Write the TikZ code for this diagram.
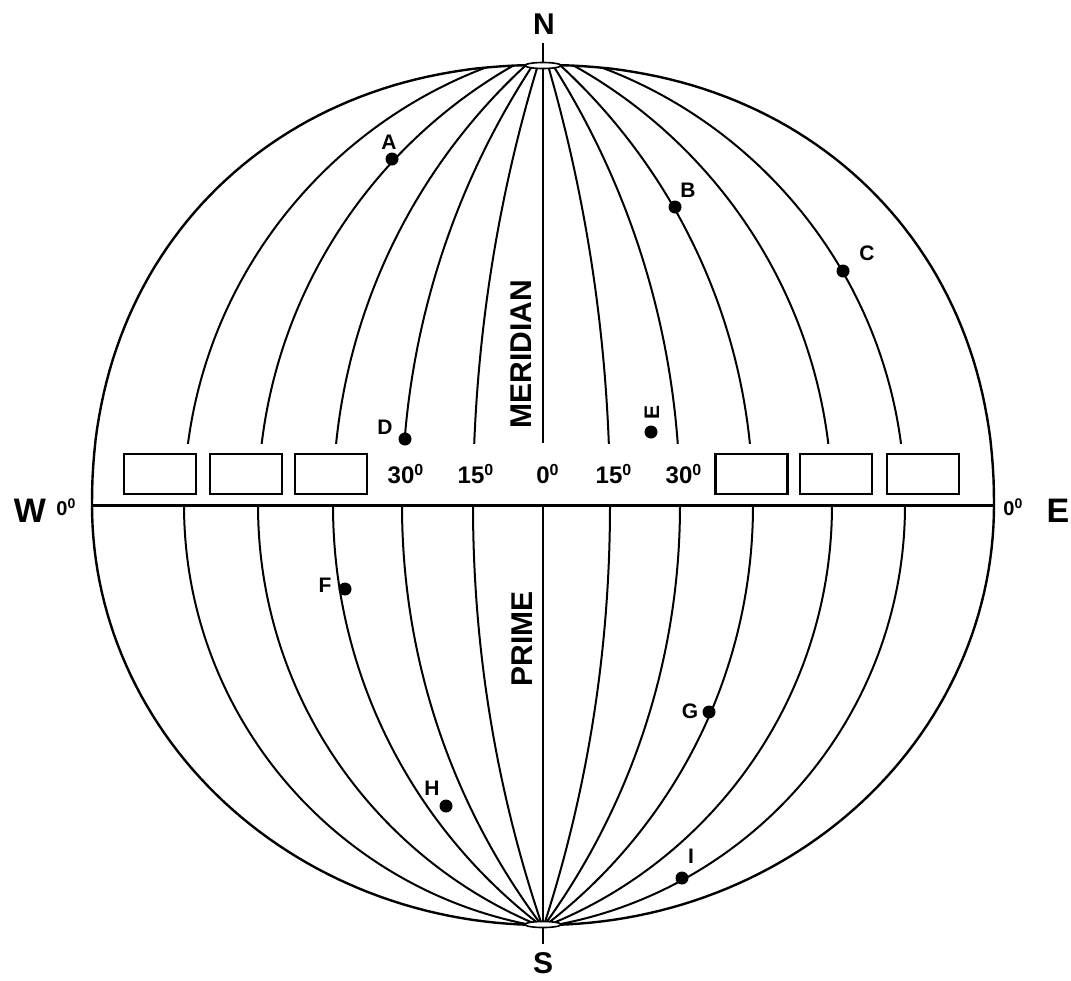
\documentclass[tikz,border=0pt]{standalone}
\usepackage{fontspec}
\setmainfont{Liberation Sans}
\usetikzlibrary{shapes.geometric}
\begin{document}
\begin{tikzpicture}[x=0.5pt,y=-0.5pt,
  mer/.style={line width=1pt},
  rim/.style={line width=1.2pt},
  ptdot/.style={circle,fill=black,inner sep=0pt,minimum size=6.5pt},
  ptlbl/.style={font=\fontsize{10.5}{12}\selectfont\bfseries,inner sep=0pt},
  deglbl/.style={font=\fontsize{12}{14}\selectfont\bfseries,inner sep=0pt},
  poletxt/.style={font=\fontsize{15}{18}\selectfont\bfseries,inner sep=0pt},
  dirtxt/.style={font=\fontsize{17}{20}\selectfont\bfseries,inner sep=0pt},
  zerotxt/.style={font=\fontsize{10}{12}\selectfont\bfseries,inner sep=0pt},
  vtxt/.style={font=\fontsize{15}{18}\selectfont\bfseries,inner sep=0pt,rotate=90},
  blank/.style={draw,line width=1.3pt,minimum width=36pt,minimum height=20pt,inner sep=0pt},
  polecap/.style={ellipse,draw,line width=0.8pt,fill=white,minimum width=18pt,minimum height=3pt,inner sep=0pt}
]
\useasboundingbox (0,0) rectangle (1071,980);
\fill[white] (0,0) rectangle (1071,980);
\def\globepath{plot[domain=0:180,samples=121,variable=\t] ({543+451*sign(cos(\t))*pow(abs(cos(\t))+0.00001,0.943)},{505-440*pow(abs(sin(\t))+0.00001,0.943)}) -- plot[domain=180:360,samples=121,variable=\t] ({543+451*cos(\t)},{505-420*sin(\t)}) -- cycle}
% meridians
\begin{scope}
  \clip \globepath;
  \begin{scope}
    \clip (0,0) rectangle (1071,443);
    \foreach \cx/\r in {1986.75/1513.75, 1206.6/804.6, 930.9/597.9, 763.7/505.7, 651.8/467.8,
                        -968.4/1578.4, -144.1/824.1, 155.1/597.9, 329.3/502.7, 438.1/466.9}
      \draw[mer] (\cx,505) circle[radius=\r];
    \draw[mer] (543,0) -- (543,443);
  \end{scope}
  \begin{scope}
    \clip (0,505) rectangle (1071,980);
    \foreach \cx/\r in {1780.0/1307.0, 1104.0/702.0, 862.0/529.0, 712.9/454.9, 611.5/427.5,
                        -752.5/1362.5, -38.4/718.4, 224.0/529.0, 379.4/452.6, 478.0/427.0}
      \draw[mer] (\cx,505) circle[radius=\r];
    \draw[mer] (543,505) -- (543,980);
  \end{scope}
\end{scope}
% outline
\draw[rim] \globepath;
% equator
\coordinate (eqW) at (92,505);
\coordinate (eqE) at (994,505);
\draw[line width=1.5pt] (eqW) -- (eqE);
% poles
\node[polecap] (npole) at (543,65.5) {};
\node[polecap] (spole) at (543,924.5) {};
\coordinate (ntick) at (543,43);
\coordinate (stick) at (543,944);
\draw[line width=1pt] (npole.north) -- (ntick);
\draw[line width=1pt] (spole.south) -- (stick);
\node[poletxt] (nlbl) at (544,24) {N};
\node[poletxt] (slbl) at (543,963) {S};
% W / E
\node[dirtxt] (wlbl) at (30,511) {W};
\node[zerotxt,anchor=west] (wzero) at (56,507) {0\textsuperscript{0}};
\node[dirtxt] (elbl) at (1058,511) {E};
\node[zerotxt,anchor=west] (ezero) at (1003,507) {0\textsuperscript{0}};
% boxes
\node[blank] (bx1) at (160,474) {};
\node[blank] (bx2) at (246,474) {};
\node[blank] (bx3) at (331,474) {};
\node[blank] (bx4) at (751.5,474) {};
\node[blank] (bx5) at (836,474) {};
\node[blank] (bx6) at (923,474) {};
% degree labels
\node[deglbl] (d30w) at (401,474) {30\rlap{\textsuperscript{0}}};
\node[deglbl] (d15w) at (471,474) {15\rlap{\textsuperscript{0}}};
\node[deglbl] (d0) at (543,474) {0\rlap{\textsuperscript{0}}};
\node[deglbl] (d15e) at (609,474) {15\rlap{\textsuperscript{0}}};
\node[deglbl] (d30e) at (679,474) {30\rlap{\textsuperscript{0}}};
% vertical words
\node[vtxt] (meridian) at (521,354) {MERIDIAN};
\node[vtxt] (prime) at (522,639) {PRIME};
% points
\node[ptdot] (pA) at (392,159) {};
\node[ptlbl] (lA) at (389,142) {A};
\node[ptdot] (pB) at (675,207) {};
\node[ptlbl] (lB) at (688,190) {B};
\node[ptdot] (pC) at (843,271) {};
\node[ptlbl] (lC) at (867,253) {C};
\node[ptdot] (pD) at (405,439) {};
\node[ptlbl] (lD) at (385,427) {D};
\node[ptdot] (pE) at (651,432) {};
\node[ptlbl,rotate=90] (lE) at (652,412) {E};
\node[ptdot] (pF) at (345,589) {};
\node[ptlbl] (lF) at (325,585) {F};
\node[ptdot] (pG) at (709,712) {};
\node[ptlbl] (lG) at (690,711) {G};
\node[ptdot] (pH) at (446,806) {};
\node[ptlbl] (lH) at (432,788) {H};
\node[ptdot] (pI) at (682,878) {};
\node[ptlbl] (lI) at (691,856) {I};
\end{tikzpicture}
\end{document}
